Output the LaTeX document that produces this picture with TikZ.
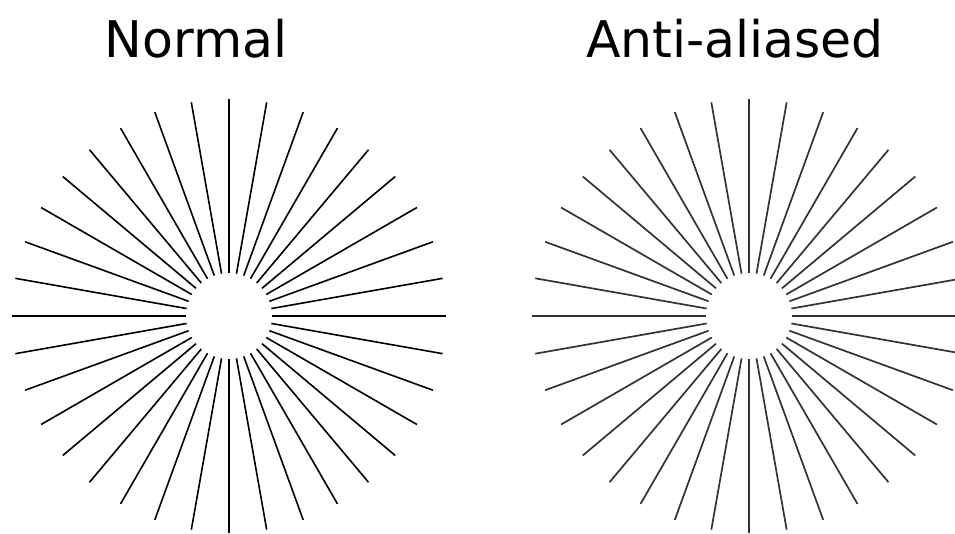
\documentclass[tikz,border=0pt]{standalone}
\usepackage{fontspec}
\setmainfont{DejaVu Sans}
\usetikzlibrary{calc}
\begin{document}
\begin{tikzpicture}[x=1pt,y=-1pt,
  title/.style={anchor=base,inner sep=0pt,font=\fontsize{50.5}{60}\selectfont},
  rayN/.style={line width=1.6pt,black},
  rayA/.style={line width=1.7pt,black!80}]
\clip (0,0) rectangle (955,533);
\useasboundingbox (0,0) rectangle (955,533);
\fill[white] (0,0) rectangle (955,533);
\node[title] (tn) at (196,57) {Normal};
\node[title] (ta) at (735,57) {Anti-aliased};
\coordinate (cn) at (229,316);
\coordinate (ca) at (749,316);
\foreach \a in {0,10,...,350}{
  \draw[rayN] ($(cn)+(\a:43)$) -- ($(cn)+(\a:217)$);
  \draw[rayA] ($(ca)+(\a:43)$) -- ($(ca)+(\a:217)$);
}
\end{tikzpicture}
\end{document}
